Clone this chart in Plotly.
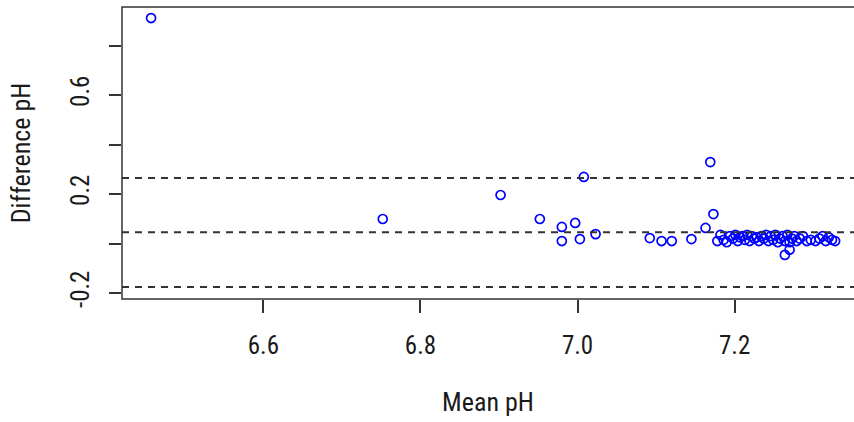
import plotly.graph_objects as go

# Bland-Altman data (mean pH vs difference pH)
mean_ph = [6.457, 6.752, 6.902, 6.952, 7.008, 6.980, 6.980, 6.997, 7.003, 7.023,
           7.092, 7.107, 7.120, 7.145, 7.163, 7.169, 7.173, 7.178,
           7.182, 7.186, 7.190, 7.194, 7.198, 7.201, 7.204, 7.207, 7.210, 7.213,
           7.216, 7.219, 7.222, 7.225, 7.228, 7.231, 7.234, 7.237, 7.240, 7.243,
           7.246, 7.249, 7.252, 7.255, 7.258, 7.261, 7.264, 7.267, 7.270, 7.273,
           7.276, 7.279, 7.283, 7.287, 7.292, 7.297, 7.303, 7.308, 7.312, 7.316,
           7.320, 7.324, 7.328, 7.264, 7.270]
diff_ph = [0.911, 0.099, 0.196, 0.099, 0.269, 0.067, 0.010, 0.083, 0.018, 0.038,
           0.022, 0.010, 0.010, 0.018, 0.063, 0.329, 0.119, 0.010,
           0.035, 0.015, 0.005, 0.030, 0.020, 0.035, 0.010, 0.025, 0.030, 0.015,
           0.035, 0.010, 0.030, 0.020, 0.025, 0.010, 0.030, 0.020, 0.035, 0.010,
           0.030, 0.015, 0.035, 0.005, 0.020, 0.030, 0.010, 0.035, 0.005, 0.020,
           0.030, 0.010, 0.020, 0.030, 0.010, 0.015, 0.010, 0.020, 0.030, 0.010,
           0.025, 0.015, 0.010, -0.046, -0.025]

mean_diff = 0.045
upper_loa = 0.265
lower_loa = -0.176

x_ticks = [6.6, 6.8, 7.0, 7.2]
x_ticktext = ["6.6", "6.8", "7.0", "7.2"]
y_ticks = [-0.2, 0.0, 0.2, 0.4, 0.6, 0.8]
y_ticktext = ["-0.2", "", "0.2", "", "0.6", ""]

FONT = "Roboto Condensed, Liberation Sans, Arial, sans-serif"
AX = "#333333"
TXT = "#1a1a1a"

fig = go.Figure()
fig.add_trace(go.Scatter(
    x=mean_ph, y=diff_ph, mode="markers",
    marker=dict(symbol="circle-open", color="#0000FF", size=9,
                line=dict(width=1.7, color="#0000FF")),
    showlegend=False, cliponaxis=False))

for v in (upper_loa, mean_diff, lower_loa):
    fig.add_hline(y=v, line=dict(color=AX, width=2, dash="7px,6px"))

fig.add_shape(type="rect", xref="paper", yref="paper", x0=0, x1=1.02, y0=0, y1=1,
              line=dict(color=AX, width=1.5), fillcolor="rgba(0,0,0,0)")

fig.update_layout(
    width=854, height=422,
    margin=dict(l=122, r=0, t=7, b=123),
    paper_bgcolor="white", plot_bgcolor="white",
    font=dict(family=FONT, size=25, color=TXT),
    xaxis=dict(range=[6.420, 7.352], tickvals=x_ticks, ticktext=x_ticktext,
               ticks="outside", ticklen=13, tickwidth=1.5, tickcolor=AX,
               showgrid=False, zeroline=False, showline=False,
               tickfont=dict(family=FONT, size=25, color=TXT),
               ticklabelstandoff=11,
               title=dict(text="Mean pH", standoff=33,
                          font=dict(family=FONT, size=26, color=TXT))),
    yaxis=dict(range=[-0.2242, 0.9556], tickvals=y_ticks, ticktext=y_ticktext,
               ticks="outside", ticklen=12, tickwidth=1.5, tickcolor=AX,
               tickangle=-90, showgrid=False, zeroline=False, showline=False,
               tickfont=dict(family=FONT, size=25, color=TXT),
               ticklabelstandoff=10,
               title=dict(text="Difference pH", standoff=27,
                          font=dict(family=FONT, size=26, color=TXT))),
)

fig.write_html("out.html")
